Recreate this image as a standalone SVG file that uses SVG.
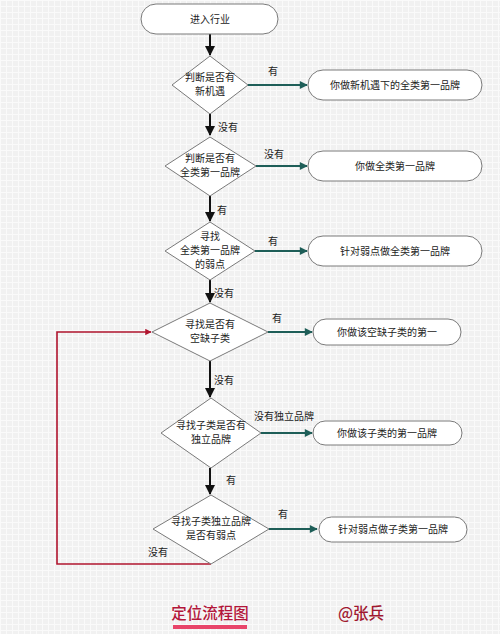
<svg xmlns="http://www.w3.org/2000/svg" width="500" height="634" viewBox="0 0 500 634">
<defs>
<pattern id="grid" width="6" height="6" patternUnits="userSpaceOnUse">
<rect width="6" height="6" fill="#f1f1f1"/>
<path d="M0 0.5H6M0.5 0V6" stroke="#fafafa" stroke-width="1"/>
</pattern>
<marker id="ab" viewBox="0 0 10 10" refX="9" refY="5" markerWidth="5" markerHeight="5" orient="auto" markerUnits="strokeWidth"><path d="M0 0L10 5L0 10z" fill="#111"/></marker>
<marker id="at" viewBox="0 0 10 10" refX="9" refY="5" markerWidth="5" markerHeight="4" orient="auto" markerUnits="strokeWidth"><path d="M0 0L10 5L0 10z" fill="#1e5e58"/></marker>
<marker id="ar" viewBox="0 0 10 10" refX="9" refY="5" markerWidth="5" markerHeight="4" orient="auto" markerUnits="strokeWidth"><path d="M0 0L10 5L0 10z" fill="#b0142e"/></marker>
</defs>
<style>
.n{fill:#fff;stroke:#7a7a7a;stroke-width:1}
.t{font-family:"Noto Sans CJK SC","Liberation Sans",sans-serif;font-size:10px;fill:#222;text-anchor:middle}
.l{font-family:"Noto Sans CJK SC","Liberation Sans",sans-serif;font-size:10px;fill:#222}
.down{stroke:#111;stroke-width:2;fill:none;marker-end:url(#ab)}
.right{stroke:#1e5e58;stroke-width:2;fill:none;marker-end:url(#at)}
.back{stroke:#b0142e;stroke-width:1.6;fill:none;marker-end:url(#ar)}
.f{font-family:"Noto Sans CJK SC",sans-serif;font-size:15.5px;font-weight:500;text-anchor:middle}
</style>
<rect width="500" height="634" fill="url(#grid)"/>

<g id="connectors">
<path class="down" d="M210 34V55"/>
<path class="down" d="M210 114V135"/>
<path class="down" d="M210 196V221"/>
<path class="down" d="M210 280V302"/>
<path class="down" d="M210 361V397"/>
<path class="down" d="M210 468V494"/>
<path class="right" d="M248 85H307"/>
<path class="right" d="M256 166H307"/>
<path class="right" d="M255 251H307"/>
<path class="right" d="M268 332H312"/>
<path class="right" d="M261 433H312"/>
<path class="right" d="M269 529H317"/>
<path class="back" d="M211 564H57V332H151"/>
<text class="l" x="268" y="75">有</text>
<text class="l" x="218" y="131">没有</text>
<text class="l" x="264" y="158">没有</text>
<text class="l" x="217" y="214">有</text>
<text class="l" x="268" y="245">有</text>
<text class="l" x="214" y="297">没有</text>
<text class="l" x="272" y="322">有</text>
<text class="l" x="214" y="384">没有</text>
<text class="l" x="254" y="420">没有独立品牌</text>
<text class="l" x="226" y="484">有</text>
<text class="l" x="278" y="518">有</text>
<text class="l" x="148" y="556">没有</text>
</g>

<g id="start">
<rect class="n" x="141" y="4" width="137" height="30" rx="15"/>
<text class="t" x="210" y="23">进入行业</text>
</g>

<g id="d1">
<path class="n" d="M210 56L248 85L210 114L172 85z"/>
<text class="t" x="210" y="81">判断是否有</text>
<text class="t" x="210" y="95">新机遇</text>
</g>
<g id="r1">
<rect class="n" x="308" y="70" width="174" height="30" rx="15"/>
<text class="t" x="395" y="89">你做新机遇下的全类第一品牌</text>
</g>

<g id="d2">
<path class="n" d="M210 137L256 166L210 196L165 166z"/>
<text class="t" x="210" y="162">判断是否有</text>
<text class="t" x="210" y="176">全类第一品牌</text>
</g>
<g id="r2">
<rect class="n" x="308" y="151" width="174" height="30" rx="15"/>
<text class="t" x="395" y="170">你做全类第一品牌</text>
</g>

<g id="d3">
<path class="n" d="M210 222L255 251L210 280L165 251z"/>
<text class="t" x="210" y="240">寻找</text>
<text class="t" x="210" y="254">全类第一品牌</text>
<text class="t" x="210" y="268">的弱点</text>
</g>
<g id="r3">
<rect class="n" x="308" y="236" width="174" height="30" rx="15"/>
<text class="t" x="395" y="255">针对弱点做全类第一品牌</text>
</g>

<g id="d4">
<path class="n" d="M210 303L268 332L210 361L152 332z"/>
<text class="t" x="210" y="328">寻找是否有</text>
<text class="t" x="210" y="342">空缺子类</text>
</g>
<g id="r4">
<rect class="n" x="313" y="319" width="148" height="26" rx="13"/>
<text class="t" x="387" y="336">你做该空缺子类的第一</text>
</g>

<g id="d5">
<path class="n" d="M211 398L261 433L211 468L161 433z"/>
<text class="t" x="211" y="429">寻找子类是否有</text>
<text class="t" x="211" y="443">独立品牌</text>
</g>
<g id="r5">
<rect class="n" x="313" y="421" width="149" height="24" rx="12"/>
<text class="t" x="387" y="437">你做该子类的第一品牌</text>
</g>

<g id="d6">
<path class="n" d="M211 495L269 529L211 564L153 529z"/>
<text class="t" x="211" y="525">寻找子类独立品牌</text>
<text class="t" x="211" y="539">是否有弱点</text>
</g>
<g id="r6">
<rect class="n" x="319" y="517" width="148" height="25" rx="12.5"/>
<text class="t" x="393" y="533">针对弱点做子类第一品牌</text>
</g>

<g id="footer">
<text class="f" x="210" y="619" fill="#b3163a">定位流程图</text>
<rect x="173" y="625" width="74" height="4" fill="#e8456a"/>
<text class="f" x="361" y="619" fill="#a01830">@张兵</text>
</g>
</svg>
